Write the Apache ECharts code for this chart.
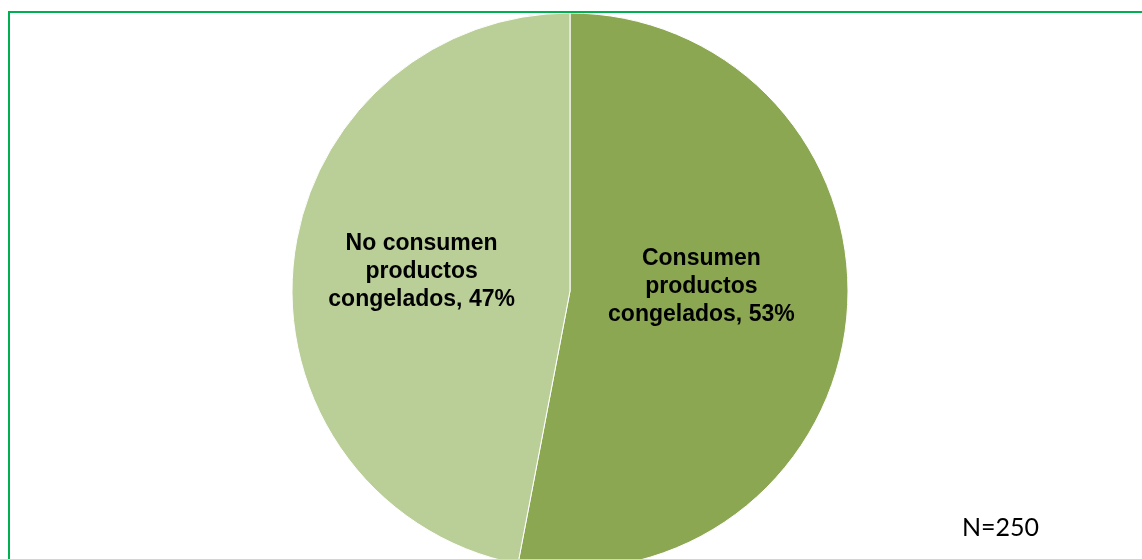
<!DOCTYPE html>
<html>
<head>
<meta charset="utf-8">
<script src="https://cdn.jsdelivr.net/npm/echarts@6/dist/echarts.min.js"></script>
<style>
html,body{margin:0;padding:0;background:#fff;}
#chart{width:1142px;height:559px;}
</style>
</head>
<body>
<div id="chart"></div>
<script>
const categories = ['Consumen\nproductos\ncongelados', 'No consumen\nproductos\ncongelados'];
const values = [53, 47];
const colors = ['#8BA751', '#BACF98'];
const labelOffsets = [[-10, -18], [-7, -6]];
const sampleNote = 'N=250';

const chart = echarts.init(document.getElementById('chart'));
chart.setOption({
  backgroundColor: '#ffffff',
  animation: false,
  series: [{
    type: 'pie',
    center: [570, 291],
    radius: 278,
    startAngle: 90,
    clockwise: true,
    z: 1,
    itemStyle: { borderColor: '#ffffff', borderWidth: 1 },
    label: {
      show: true,
      position: 'inside',
      formatter: p => p.name + ', ' + p.value + '%',
      fontFamily: 'Liberation Sans, Arial, sans-serif',
      fontWeight: 'bold',
      fontSize: 23,
      lineHeight: 28,
      color: '#000',
      align: 'center'
    },
    labelLine: { show: false },
    emphasis: { disabled: true },
    data: categories.map((c, i) => ({
      name: c, value: values[i],
      itemStyle: { color: colors[i] },
      label: { offset: labelOffsets[i] }
    }))
  }],
  graphic: [
    {
      type: 'rect', z: 10,
      shape: { x: 9, y: 12, width: 1200, height: 600 },
      style: { fill: 'none', stroke: '#00B050', lineWidth: 2 }
    },
    {
      type: 'text', z: 10,
      left: 962, top: 515,
      style: { text: sampleNote, font: '25px Lato, Carlito, sans-serif', fill: '#000' }
    }
  ]
});
</script>
</body>
</html>
